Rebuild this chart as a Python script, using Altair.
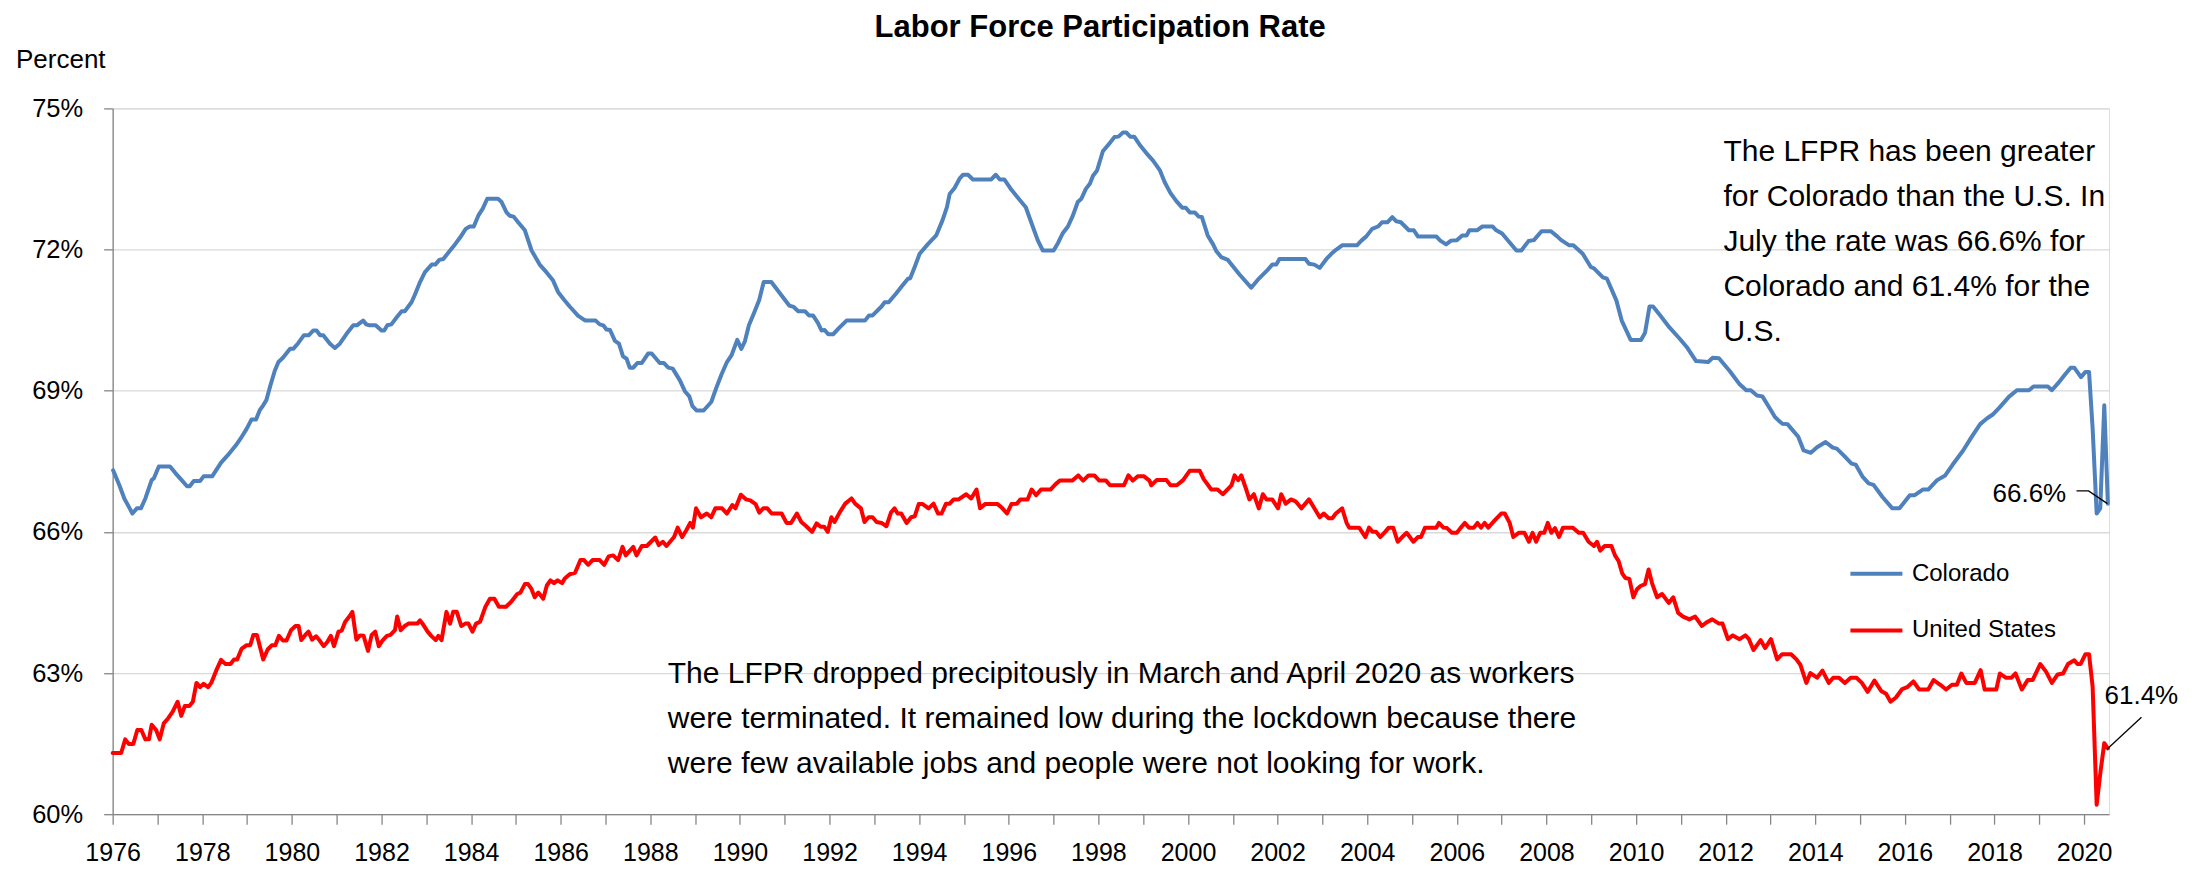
import altair as alt
import pandas as pd

FONT = "Liberation Sans"
BLUE = "#4F81BD"
RED = "#FF0000"
AXIS_GRAY = "#868686"
GRID_GRAY = "#D9D9D9"

# ---- Colorado LFPR (decimal year, percent) ----
co_t = [1976.01, 1976.15, 1976.26, 1976.38, 1976.44, 1976.54, 1976.63, 1976.73, 1976.87, 1976.92,
        1977.03, 1977.28, 1977.40, 1977.53, 1977.66, 1977.72, 1977.81, 1977.95, 1978.03, 1978.22,
        1978.42, 1978.57, 1978.75, 1978.88, 1978.99, 1979.10, 1979.20, 1979.28, 1979.36, 1979.43,
        1979.52, 1979.62, 1979.70, 1979.80, 1979.96, 1980.03, 1980.14, 1980.27, 1980.38, 1980.48,
        1980.55, 1980.63, 1980.70, 1980.85, 1980.96, 1981.07, 1981.22, 1981.37, 1981.45, 1981.59,
        1981.66, 1981.73, 1981.87, 1982.00, 1982.06, 1982.13, 1982.22, 1982.34, 1982.45, 1982.52,
        1982.67, 1982.74, 1982.86, 1982.97, 1983.12, 1983.20, 1983.29, 1983.38, 1983.53, 1983.64,
        1983.75, 1983.88, 1983.97, 1984.06, 1984.16, 1984.26, 1984.36, 1984.60, 1984.68, 1984.79,
        1984.86, 1984.95, 1985.05, 1985.20, 1985.35, 1985.53, 1985.68, 1985.83, 1985.94, 1986.07,
        1986.20, 1986.39, 1986.50, 1986.56, 1986.78, 1986.87, 1986.95, 1987.02, 1987.10, 1987.21,
        1987.30, 1987.39, 1987.47, 1987.54, 1987.62, 1987.71, 1987.81, 1987.95, 1988.03, 1988.21,
        1988.30, 1988.40, 1988.50, 1988.66, 1988.77, 1988.87, 1988.94, 1989.03, 1989.19, 1989.36,
        1989.48, 1989.59, 1989.71, 1989.81, 1989.94, 1990.03, 1990.11, 1990.20, 1990.31, 1990.43,
        1990.53, 1990.70, 1990.87, 1991.10, 1991.20, 1991.30, 1991.45, 1991.54, 1991.63, 1991.74,
        1991.82, 1991.89, 1991.97, 1992.08, 1992.23, 1992.38, 1992.79, 1992.88, 1992.96, 1993.16,
        1993.23, 1993.32, 1993.49, 1993.63, 1993.75, 1993.80, 1993.90, 1994.01, 1994.20, 1994.38,
        1994.52, 1994.62, 1994.68, 1994.79, 1994.91, 1994.98, 1995.09, 1995.20, 1995.61, 1995.71,
        1995.80, 1995.90, 1996.06, 1996.24, 1996.38, 1996.50, 1996.65, 1996.76, 1997.00, 1997.10,
        1997.20, 1997.32, 1997.43, 1997.54, 1997.62, 1997.72, 1997.81, 1997.88, 1997.97, 1998.10,
        1998.25, 1998.36, 1998.45, 1998.55, 1998.62, 1998.71, 1998.80, 1998.92, 1999.07, 1999.22,
        1999.37, 1999.48, 1999.61, 1999.74, 1999.87, 1999.95, 2000.04, 2000.15, 2000.24, 2000.31,
        2000.44, 2000.56, 2000.63, 2000.74, 2000.89, 2001.15, 2001.41, 2001.56, 2001.75, 2001.88,
        2001.97, 2002.04, 2002.62, 2002.70, 2002.82, 2002.94, 2003.09, 2003.20, 2003.31, 2003.44,
        2003.77, 2003.87, 2003.98, 2004.11, 2004.24, 2004.33, 2004.45, 2004.56, 2004.65, 2004.75,
        2004.93, 2005.04, 2005.13, 2005.54, 2005.63, 2005.76, 2005.87, 2006.00, 2006.12, 2006.22,
        2006.28, 2006.45, 2006.57, 2006.80, 2006.88, 2007.01, 2007.17, 2007.33, 2007.44, 2007.60,
        2007.72, 2007.89, 2008.10, 2008.24, 2008.33, 2008.51, 2008.60, 2008.81, 2008.99, 2009.06,
        2009.26, 2009.35, 2009.56, 2009.68, 2009.88, 2010.11, 2010.20, 2010.30, 2010.38, 2010.54,
        2010.75, 2010.97, 2011.13, 2011.34, 2011.61, 2011.71, 2011.85, 2012.09, 2012.30, 2012.46,
        2012.56, 2012.70, 2012.82, 2013.00, 2013.10, 2013.26, 2013.38, 2013.62, 2013.74, 2013.90,
        2014.04, 2014.23, 2014.39, 2014.48, 2014.65, 2014.81, 2014.90, 2015.05, 2015.19, 2015.30,
        2015.50, 2015.72, 2015.88, 2016.11, 2016.22, 2016.40, 2016.52, 2016.72, 2016.90, 2017.06,
        2017.30, 2017.49, 2017.68, 2017.83, 2017.97, 2018.11, 2018.32, 2018.50, 2018.77, 2018.87,
        2019.19, 2019.28, 2019.42, 2019.56, 2019.70, 2019.78, 2019.93, 2020.03, 2020.11, 2020.19,
        2020.28, 2020.36, 2020.45, 2020.53]
co_v = [67.31, 66.99, 66.71, 66.50, 66.39, 66.50, 66.50, 66.71, 67.10, 67.14,
        67.39, 67.39, 67.25, 67.11, 66.97, 66.97, 67.08, 67.08, 67.18, 67.18,
        67.47, 67.63, 67.84, 68.02, 68.19, 68.39, 68.39, 68.58, 68.69, 68.80,
        69.11, 69.43, 69.61, 69.70, 69.89, 69.89, 70.01, 70.18, 70.18, 70.28,
        70.28, 70.18, 70.18, 70.00, 69.91, 70.00, 70.21, 70.39, 70.39, 70.49,
        70.41, 70.39, 70.39, 70.28, 70.28, 70.39, 70.41, 70.56, 70.69, 70.69,
        70.88, 71.03, 71.31, 71.52, 71.68, 71.68, 71.78, 71.80, 71.98, 72.11,
        72.25, 72.44, 72.49, 72.49, 72.72, 72.87, 73.08, 73.08, 73.01, 72.79,
        72.72, 72.70, 72.58, 72.41, 71.98, 71.68, 71.52, 71.34, 71.10, 70.94,
        70.79, 70.59, 70.52, 70.49, 70.49, 70.41, 70.39, 70.30, 70.29, 70.06,
        70.00, 69.73, 69.68, 69.49, 69.49, 69.59, 69.59, 69.79, 69.79, 69.59,
        69.59, 69.49, 69.47, 69.22, 68.99, 68.88, 68.67, 68.58, 68.58, 68.76,
        69.08, 69.35, 69.61, 69.75, 70.08, 69.89, 70.05, 70.39, 70.64, 70.93,
        71.31, 71.31, 71.10, 70.81, 70.78, 70.69, 70.69, 70.60, 70.60, 70.44,
        70.28, 70.29, 70.20, 70.20, 70.35, 70.49, 70.49, 70.60, 70.60, 70.79,
        70.88, 70.88, 71.07, 71.24, 71.38, 71.39, 71.63, 71.91, 72.12, 72.30,
        72.62, 72.90, 73.18, 73.31, 73.52, 73.59, 73.59, 73.49, 73.49, 73.59,
        73.49, 73.49, 73.27, 73.06, 72.90, 72.58, 72.19, 71.98, 71.98, 72.14,
        72.34, 72.49, 72.72, 73.01, 73.08, 73.29, 73.40, 73.57, 73.68, 74.09,
        74.26, 74.39, 74.40, 74.49, 74.49, 74.40, 74.40, 74.23, 74.05, 73.89,
        73.69, 73.43, 73.20, 73.03, 72.89, 72.89, 72.79, 72.79, 72.70, 72.69,
        72.30, 72.11, 71.97, 71.84, 71.78, 71.47, 71.19, 71.36, 71.54, 71.68,
        71.68, 71.80, 71.80, 71.70, 71.68, 71.61, 71.80, 71.91, 72.00, 72.09,
        72.09, 72.19, 72.28, 72.44, 72.49, 72.58, 72.58, 72.69, 72.60, 72.58,
        72.41, 72.41, 72.28, 72.28, 72.19, 72.11, 72.19, 72.20, 72.30, 72.30,
        72.41, 72.41, 72.49, 72.49, 72.41, 72.34, 72.16, 71.98, 71.98, 72.18,
        72.20, 72.39, 72.39, 72.28, 72.20, 72.09, 72.09, 71.91, 71.63, 71.60,
        71.41, 71.38, 70.92, 70.49, 70.08, 70.08, 70.23, 70.79, 70.79, 70.60,
        70.34, 70.11, 69.93, 69.63, 69.61, 69.70, 69.69, 69.42, 69.15, 69.01,
        69.01, 68.90, 68.88, 68.60, 68.44, 68.30, 68.29, 68.02, 67.73, 67.68,
        67.80, 67.91, 67.79, 67.77, 67.61, 67.45, 67.43, 67.18, 67.03, 67.00,
        66.74, 66.50, 66.50, 66.78, 66.78, 66.90, 66.90, 67.10, 67.20, 67.42,
        67.73, 68.02, 68.29, 68.41, 68.50, 68.64, 68.87, 69.01, 69.01, 69.09,
        69.09, 69.01, 69.16, 69.33, 69.49, 69.49, 69.29, 69.40, 69.40, 68.20,
        66.39, 66.50, 68.69, 66.60]

# ---- United States LFPR (decimal year, percent) ----
us_t = [1976.00, 1976.19, 1976.28, 1976.36, 1976.46, 1976.55, 1976.64, 1976.73, 1976.81, 1976.87,
        1976.97, 1977.05, 1977.14, 1977.24, 1977.34, 1977.45, 1977.53, 1977.61, 1977.71, 1977.79,
        1977.87, 1977.95, 1978.03, 1978.13, 1978.20, 1978.31, 1978.42, 1978.52, 1978.63, 1978.71,
        1978.78, 1978.88, 1978.99, 1979.07, 1979.14, 1979.22, 1979.36, 1979.46, 1979.55, 1979.63,
        1979.71, 1979.80, 1979.88, 1979.98, 1980.08, 1980.15, 1980.21, 1980.30, 1980.37, 1980.45,
        1980.54, 1980.62, 1980.71, 1980.79, 1980.87, 1980.94, 1981.04, 1981.11, 1981.19, 1981.29,
        1981.35, 1981.44, 1981.52, 1981.60, 1981.70, 1981.78, 1981.86, 1981.94, 1982.02, 1982.12,
        1982.20, 1982.30, 1982.35, 1982.43, 1982.52, 1982.60, 1982.72, 1982.80, 1982.86, 1982.93,
        1983.03, 1983.11, 1983.21, 1983.27, 1983.34, 1983.45, 1983.53, 1983.60, 1983.68, 1983.78,
        1983.87, 1983.94, 1984.03, 1984.11, 1984.20, 1984.32, 1984.42, 1984.52, 1984.62, 1984.78,
        1984.89, 1985.03, 1985.10, 1985.20, 1985.27, 1985.34, 1985.42, 1985.50, 1985.61, 1985.69,
        1985.77, 1985.85, 1985.93, 1986.03, 1986.09, 1986.20, 1986.32, 1986.44, 1986.52, 1986.61,
        1986.71, 1986.87, 1986.97, 1987.07, 1987.17, 1987.28, 1987.38, 1987.45, 1987.62, 1987.69,
        1987.81, 1987.92, 1988.11, 1988.19, 1988.28, 1988.36, 1988.53, 1988.61, 1988.71, 1988.80,
        1988.89, 1988.95, 1989.02, 1989.13, 1989.26, 1989.36, 1989.45, 1989.60, 1989.71, 1989.83,
        1989.90, 1990.02, 1990.14, 1990.23, 1990.35, 1990.43, 1990.52, 1990.61, 1990.71, 1990.93,
        1991.04, 1991.14, 1991.27, 1991.37, 1991.48, 1991.61, 1991.71, 1991.80, 1991.88, 1991.96,
        1992.04, 1992.11, 1992.23, 1992.35, 1992.49, 1992.57, 1992.70, 1992.78, 1992.87, 1992.96,
        1993.05, 1993.16, 1993.27, 1993.37, 1993.45, 1993.52, 1993.60, 1993.72, 1993.82, 1993.90,
        1993.99, 1994.08, 1994.21, 1994.32, 1994.42, 1994.50, 1994.60, 1994.68, 1994.77, 1994.88,
        1995.05, 1995.16, 1995.28, 1995.36, 1995.47, 1995.55, 1995.75, 1995.86, 1995.96, 1996.06,
        1996.18, 1996.26, 1996.42, 1996.51, 1996.61, 1996.72, 1996.93, 1997.04, 1997.14, 1997.28,
        1997.42, 1997.55, 1997.66, 1997.78, 1997.91, 1998.02, 1998.17, 1998.26, 1998.37, 1998.57,
        1998.67, 1998.77, 1998.88, 1999.02, 1999.14, 1999.18, 1999.30, 1999.52, 1999.61, 1999.75,
        1999.89, 2000.04, 2000.26, 2000.35, 2000.52, 2000.66, 2000.78, 2000.97, 2001.04, 2001.12,
        2001.19, 2001.30, 2001.37, 2001.47, 2001.58, 2001.67, 2001.75, 2001.88, 2002.01, 2002.08,
        2002.18, 2002.30, 2002.40, 2002.53, 2002.70, 2002.82, 2002.94, 2003.03, 2003.14, 2003.22,
        2003.30, 2003.44, 2003.54, 2003.60, 2003.82, 2003.96, 2004.04, 2004.12, 2004.20, 2004.29,
        2004.40, 2004.48, 2004.58, 2004.68, 2004.78, 2004.88, 2005.03, 2005.13, 2005.20, 2005.29,
        2005.54, 2005.60, 2005.70, 2005.78, 2005.89, 2006.00, 2006.08, 2006.18, 2006.27, 2006.38,
        2006.46, 2006.54, 2006.62, 2006.70, 2006.85, 2006.99, 2007.07, 2007.18, 2007.26, 2007.38,
        2007.51, 2007.61, 2007.69, 2007.77, 2007.86, 2007.95, 2008.03, 2008.11, 2008.19, 2008.28,
        2008.37, 2008.59, 2008.72, 2008.82, 2008.94, 2009.06, 2009.13, 2009.20, 2009.30, 2009.45,
        2009.53, 2009.61, 2009.69, 2009.76, 2009.85, 2009.94, 2010.02, 2010.10, 2010.20, 2010.28,
        2010.36, 2010.47, 2010.58, 2010.73, 2010.83, 2010.94, 2011.05, 2011.19, 2011.32, 2011.47,
        2011.58, 2011.70, 2011.85, 2011.93, 2012.05, 2012.16, 2012.31, 2012.44, 2012.52, 2012.62,
        2012.78, 2012.88, 2013.01, 2013.15, 2013.26, 2013.46, 2013.58, 2013.67, 2013.80, 2013.89,
        2014.04, 2014.16, 2014.30, 2014.40, 2014.53, 2014.66, 2014.79, 2014.92, 2015.04, 2015.17,
        2015.32, 2015.47, 2015.58, 2015.68, 2015.80, 2015.94, 2016.05, 2016.19, 2016.32, 2016.52,
        2016.64, 2016.79, 2016.92, 2017.05, 2017.16, 2017.26, 2017.37, 2017.56, 2017.69, 2017.78,
        2018.04, 2018.12, 2018.25, 2018.38, 2018.47, 2018.61, 2018.74, 2018.85, 2019.02, 2019.15,
        2019.28, 2019.41, 2019.53, 2019.64, 2019.78, 2019.85, 2019.92, 2020.03, 2020.11, 2020.19,
        2020.28, 2020.36, 2020.45, 2020.53]
us_v = [61.30, 61.30, 61.59, 61.49, 61.49, 61.79, 61.79, 61.59, 61.59, 61.90,
        61.79, 61.59, 61.93, 62.04, 62.18, 62.39, 62.09, 62.30, 62.30, 62.39,
        62.79, 62.70, 62.77, 62.70, 62.79, 63.05, 63.28, 63.19, 63.19, 63.29,
        63.29, 63.52, 63.59, 63.59, 63.81, 63.81, 63.29, 63.50, 63.59, 63.59,
        63.79, 63.69, 63.69, 63.91, 64.00, 64.00, 63.70, 63.81, 63.88, 63.71,
        63.78, 63.69, 63.57, 63.66, 63.79, 63.57, 63.88, 63.90, 64.09, 64.21,
        64.30, 63.71, 63.80, 63.79, 63.47, 63.81, 63.88, 63.57, 63.69, 63.79,
        63.81, 63.91, 64.20, 63.91, 64.00, 64.05, 64.05, 64.05, 64.12, 64.03,
        63.88, 63.79, 63.70, 63.79, 63.70, 64.30, 64.05, 64.30, 64.30, 64.00,
        64.05, 64.05, 63.88, 64.05, 64.09, 64.41, 64.58, 64.58, 64.41, 64.41,
        64.51, 64.68, 64.71, 64.89, 64.89, 64.80, 64.61, 64.71, 64.58, 64.86,
        64.97, 64.91, 64.97, 64.91, 65.01, 65.10, 65.13, 65.40, 65.40, 65.30,
        65.40, 65.40, 65.30, 65.48, 65.50, 65.40, 65.68, 65.50, 65.68, 65.50,
        65.70, 65.70, 65.88, 65.72, 65.79, 65.70, 65.89, 66.09, 65.89, 66.03,
        66.19, 66.09, 66.50, 66.31, 66.39, 66.31, 66.50, 66.50, 66.39, 66.57,
        66.50, 66.79, 66.69, 66.67, 66.59, 66.41, 66.50, 66.50, 66.39, 66.39,
        66.19, 66.19, 66.39, 66.21, 66.12, 66.00, 66.18, 66.11, 66.11, 66.00,
        66.31, 66.21, 66.42, 66.60, 66.71, 66.60, 66.50, 66.21, 66.31, 66.31,
        66.21, 66.19, 66.12, 66.41, 66.50, 66.39, 66.39, 66.19, 66.31, 66.33,
        66.59, 66.59, 66.50, 66.60, 66.39, 66.39, 66.60, 66.60, 66.69, 66.69,
        66.80, 66.71, 66.90, 66.50, 66.59, 66.59, 66.59, 66.50, 66.39, 66.59,
        66.60, 66.69, 66.69, 66.90, 66.78, 66.90, 66.90, 67.01, 67.09, 67.09,
        67.09, 67.20, 67.09, 67.20, 67.20, 67.09, 67.09, 66.99, 66.99, 66.99,
        67.20, 67.09, 67.18, 67.18, 67.09, 66.99, 67.10, 67.10, 66.99, 66.99,
        67.10, 67.30, 67.30, 67.12, 66.90, 66.90, 66.80, 66.99, 67.20, 67.10,
        67.20, 66.90, 66.69, 66.80, 66.50, 66.80, 66.69, 66.69, 66.50, 66.80,
        66.60, 66.69, 66.65, 66.50, 66.69, 66.50, 66.31, 66.39, 66.29, 66.29,
        66.39, 66.50, 66.19, 66.09, 66.09, 65.89, 66.09, 66.00, 66.00, 65.89,
        66.00, 66.09, 66.09, 65.79, 65.89, 65.98, 65.79, 65.89, 65.89, 66.09,
        66.09, 66.19, 66.09, 66.08, 65.98, 65.98, 66.08, 66.19, 66.09, 66.09,
        66.19, 66.09, 66.19, 66.09, 66.25, 66.39, 66.39, 66.19, 65.89, 65.98,
        65.98, 65.79, 65.98, 65.79, 65.98, 65.98, 66.19, 65.98, 66.08, 65.89,
        66.09, 66.09, 65.98, 65.98, 65.79, 65.70, 65.79, 65.60, 65.70, 65.70,
        65.50, 65.38, 65.12, 65.02, 65.00, 64.61, 64.78, 64.85, 64.89, 65.20,
        64.90, 64.61, 64.68, 64.49, 64.61, 64.28, 64.20, 64.14, 64.20, 64.00,
        64.08, 64.14, 64.05, 64.05, 63.72, 63.80, 63.72, 63.80, 63.72, 63.49,
        63.70, 63.53, 63.72, 63.29, 63.40, 63.40, 63.29, 63.17, 62.79, 63.00,
        62.90, 63.05, 62.79, 62.90, 62.90, 62.79, 62.90, 62.90, 62.79, 62.60,
        62.84, 62.62, 62.56, 62.39, 62.48, 62.66, 62.70, 62.82, 62.65, 62.65,
        62.85, 62.75, 62.65, 62.75, 62.75, 62.99, 62.79, 62.79, 63.06, 62.65,
        62.65, 62.99, 62.90, 62.90, 62.99, 62.65, 62.85, 62.85, 63.19, 63.03,
        62.79, 62.97, 62.99, 63.19, 63.27, 63.19, 63.19, 63.40, 63.40, 62.71,
        60.20, 60.86, 61.51, 61.40]

series_names = ["Colorado", "United States"]
y_ticks = [60, 63, 66, 69, 72, 75]
x_ticks = list(range(1976, 2021))

title_text = "Labor Force Participation Rate"
y_title = "Percent"
note_right = ["The LFPR has been greater", "for Colorado than the U.S. In",
              "July the rate was 66.6% for", "Colorado and 61.4% for the", "U.S."]
note_bottom = ["The LFPR dropped precipitously in March and April 2020 as workers",
               "were terminated. It remained low during the lockdown because there",
               "were few available jobs and people were not looking for work."]
co_label, us_label = "66.6%", "61.4%"
# leader lines (data coordinates)
lead_id = ["co", "co", "co", "us", "us"]
lead_t = [2019.83, 2020.10, 2020.52, 2020.51, 2021.28]
lead_v = [66.87, 66.87, 66.60, 61.38, 62.06]

df = pd.concat([
    pd.DataFrame({"t": co_t, "v": co_v, "series": series_names[0]}),
    pd.DataFrame({"t": us_t, "v": us_v, "series": series_names[1]}),
], ignore_index=True)
lead_df = pd.DataFrame({"id": lead_id, "t": lead_t, "v": lead_v})
one = pd.DataFrame({"k": [0]})

W, H = 1997, 706
x_scale = alt.Scale(domain=[1976, 2020.556], nice=False, zero=False)
y_scale = alt.Scale(domain=[60, 75], nice=False, zero=False)

x_axis = alt.Axis(values=x_ticks, title=None, grid=False,
                  labelExpr="datum.value % 2 == 0 ? '' + datum.value : ''",
                  tickSize=10, tickWidth=1.3, tickColor=AXIS_GRAY,
                  domainColor=AXIS_GRAY, domainWidth=1.3,
                  labelFont=FONT, labelFontSize=25, labelColor="black", labelPadding=16,
                  labelOverlap=False, labelFlush=False, labelBound=False)
y_axis = alt.Axis(values=y_ticks, title=None, grid=True, gridColor=GRID_GRAY, gridWidth=1.3,
                  labelExpr="datum.value + '%'",
                  tickSize=9, tickWidth=1.3, tickColor=AXIS_GRAY,
                  domainColor=AXIS_GRAY, domainWidth=1.3,
                  labelFont=FONT, labelFontSize=25.5, labelColor="black", labelPadding=21,
                  labelOverlap=False, labelFlush=False, labelBound=False)

lines = alt.Chart(df).mark_line(strokeWidth=4, strokeJoin="round", strokeCap="round").encode(
    x=alt.X("t:Q", scale=x_scale, axis=x_axis),
    y=alt.Y("v:Q", scale=y_scale, axis=y_axis),
    color=alt.Color("series:N",
                    scale=alt.Scale(domain=series_names, range=[BLUE, RED]),
                    legend=alt.Legend(title=None, orient="none", legendX=1736.3, legendY=437.4,
                                      symbolType="stroke", symbolSize=2704, symbolStrokeWidth=4,
                                      labelFont=FONT, labelFontSize=24, labelColor="black",
                                      labelOffset=7.5, rowPadding=16.8, padding=0)),
)

leaders = alt.Chart(lead_df).mark_line(color="black", strokeWidth=1.3).encode(
    x=alt.X("t:Q", scale=x_scale), y=alt.Y("v:Q", scale=y_scale), detail="id:N")

def txt(size, align="left", weight="normal", line_height=45):
    return alt.Chart(one).mark_text(font=FONT, fontSize=size, align=align, baseline="alphabetic",
                                    fontWeight=weight, color="black", lineHeight=line_height)

title = txt(31, "center", "bold").encode(x=alt.value(987.8), y=alt.value(-71.6), text=alt.value(title_text))
ytitle = txt(26).encode(x=alt.value(-96.7), y=alt.value(-40.6), text=alt.value(y_title))
n_right = txt(30).encode(x=alt.datum(2011.95), y=alt.datum(73.89), text=alt.value(note_right))
n_bottom = txt(30).encode(x=alt.datum(1988.39), y=alt.datum(62.79), text=alt.value(note_bottom))
l_co = txt(26, "right").encode(x=alt.datum(2019.60), y=alt.datum(66.64), text=alt.value(co_label))
l_us = txt(26).encode(x=alt.datum(2020.456), y=alt.datum(62.34), text=alt.value(us_label))

chart = alt.layer(lines, leaders, title, ytitle, n_right, n_bottom, l_co, l_us).properties(
    width=W, height=H,
    autosize=alt.AutoSizeParams(type="none"),
    padding={"left": 104.7, "top": 100.3, "right": 84, "bottom": 62},
).configure_view(stroke=None).configure(background="white")

chart.save("out.html", embed_options={"renderer": "svg", "actions": False})
